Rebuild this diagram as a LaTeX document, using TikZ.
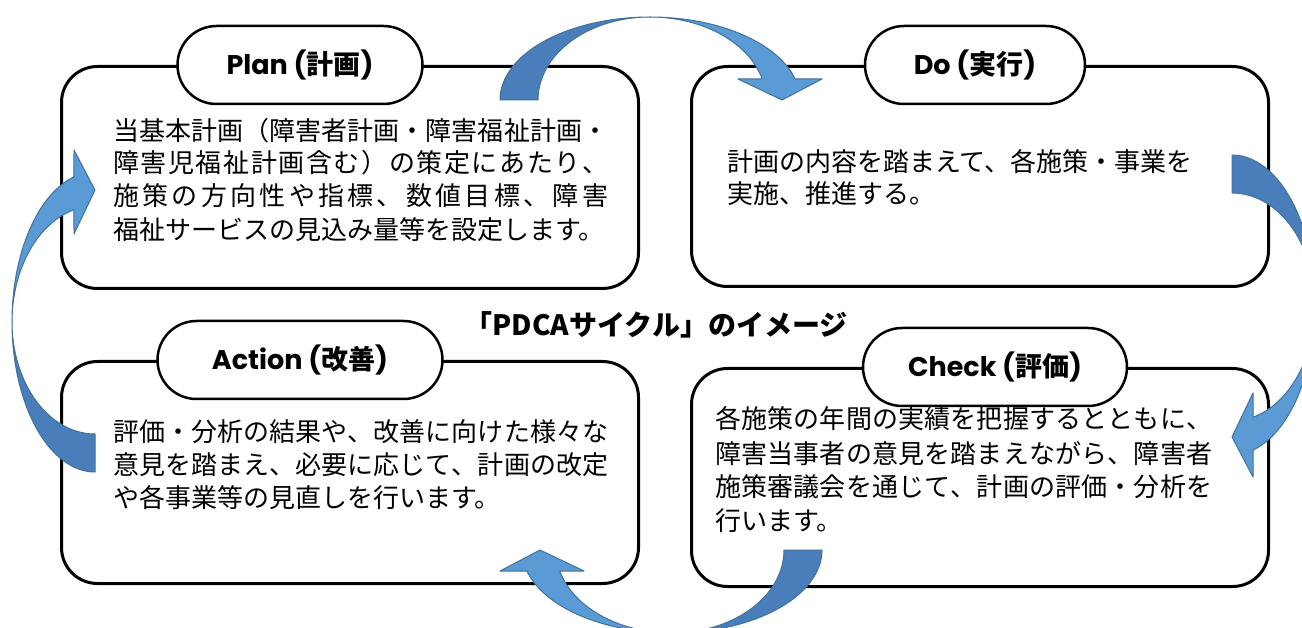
\documentclass[tikz,border=0pt]{standalone}
\usepackage{fontspec}
\setmainfont{Noto Sans CJK JP}
\newfontfamily\latfont{Poppins}
\usetikzlibrary{shapes.misc}
\definecolor{arrdark}{RGB}{74,126,187}
\definecolor{arrlight}{RGB}{91,155,213}
\definecolor{arrline}{RGB}{65,113,156}
\def\spreadloop#1{\ifx#1\relax\else#1\hfil\expandafter\spreadloop\fi}
\newcommand{\spreadline}[2]{\makebox[#1][s]{\spreadloop#2\relax\unskip}}
\newcommand{\stagename}[2]{{\latfont\bfseries #1 (}{\bfseries #2}{\latfont\bfseries )}}
\tikzset{
  stagebox/.style={draw=black, line width=3pt, rounded corners=36pt, fill=white, anchor=north west, inner sep=0pt},
  stagelabel/.style={draw=black, line width=2.5pt, fill=white, rounded rectangle, minimum height=78pt, inner sep=0pt, font=\fontsize{27}{30}\selectfont},
  bodyline/.style={anchor=west, inner sep=0pt, font=\fontsize{26}{30}\selectfont},
  titletext/.style={inner sep=0pt, font=\fontsize{28}{32}\selectfont\bfseries},
  arrowdark/.style={fill=arrdark, draw=arrline, line width=1pt, line join=round},
  arrowlight/.style={fill=arrlight, draw=arrline, line width=1pt, line join=round},
}
\newcommand{\pdcaarrow}[3]{%
  \begin{scope}[shift={(#1,#2)}, yscale=-1, rotate=#3]
    \path[arrowdark] plot[domain=180:90, samples=40, smooth] ({150*cos(\x)},{83*sin(\x)})
      -- plot[domain=90:180, samples=40, smooth] ({112*cos(\x)},{83*sin(\x)}) -- cycle;
    \path[arrowlight] plot[domain=90:14.66, samples=40, smooth] ({150*cos(\x)},{83*sin(\x)})
      -- (172,21) -- (132,0) -- (88,21)
      -- plot[domain=14.66:90, samples=40, smooth] ({116*cos(\x)},{83*sin(\x)}) -- cycle;
  \end{scope}}
\begin{document}
\begin{tikzpicture}[x=1pt,y=-1pt]
  \useasboundingbox[fill=white] (0,0) rectangle (1302,628);
  % boxes
  \node[stagebox, minimum width=577pt, minimum height=222pt] (planbox) at (60,65) {};
  \node[stagebox, minimum width=577pt, minimum height=220pt] (dobox) at (690,65) {};
  \node[stagebox, minimum width=577pt, minimum height=222pt] (actbox) at (60,360) {};
  \node[stagebox, minimum width=577pt, minimum height=218pt] (chkbox) at (690,367) {};
  % labels
  \node[stagelabel, minimum width=245pt] (planlabel) at (300,65) {\stagename{Plan}{計画}};
  \node[stagelabel, minimum width=220pt] (dolabel) at (975,65) {\stagename{Do}{実行}};
  \node[stagelabel, minimum width=285pt] (actlabel) at (300,360) {\stagename{Action}{改善}};
  \node[stagelabel, minimum width=264pt] (chklabel) at (995,367) {\stagename{Check}{評価}};
  % title
  \node[titletext] (title) at (656,325) {「PDCAサイクル」のイメージ};
  % plan text
  \node[bodyline] (p1) at (113,131) {\spreadline{495pt}{当基本計画（障害者計画・障害福祉計画・}};
  \node[bodyline] (p2) at (113,163) {\spreadline{495pt}{障害児福祉計画含む）の策定にあたり、}};
  \node[bodyline] (p3) at (113,196) {\spreadline{495pt}{施策の方向性や指標、数値目標、障害}};
  \node[bodyline] (p4) at (113,230) {福祉サービスの見込み量等を設定します。};
  % do text
  \node[bodyline] (d1) at (727,162) {計画の内容を踏まえて、各施策・事業を};
  \node[bodyline] (d2) at (727,194) {実施、推進する。};
  % action text
  \node[bodyline] (a1) at (113,432) {\spreadline{495pt}{評価・分析の結果や、改善に向けた様々な}};
  \node[bodyline] (a2) at (113,465) {\spreadline{495pt}{意見を踏まえ、必要に応じて、計画の改定}};
  \node[bodyline] (a3) at (113,498) {や各事業等の見直しを行います。};
  % check text
  \node[bodyline] (c1) at (715,419) {\spreadline{497pt}{各施策の年間の実績を把握するとともに、}};
  \node[bodyline] (c2) at (715,454) {\spreadline{497pt}{障害当事者の意見を踏まえながら、障害者}};
  \node[bodyline] (c3) at (715,487) {\spreadline{497pt}{施策審議会を通じて、計画の評価・分析を}};
  \node[bodyline] (c4) at (715,521) {行います。};
  % curved arrows
  \pdcaarrow{650}{100}{0}
  \pdcaarrow{1232}{305}{90}
  \pdcaarrow{672}{550}{180}
  \pdcaarrow{95}{322}{-90}
\end{tikzpicture}
\end{document}
